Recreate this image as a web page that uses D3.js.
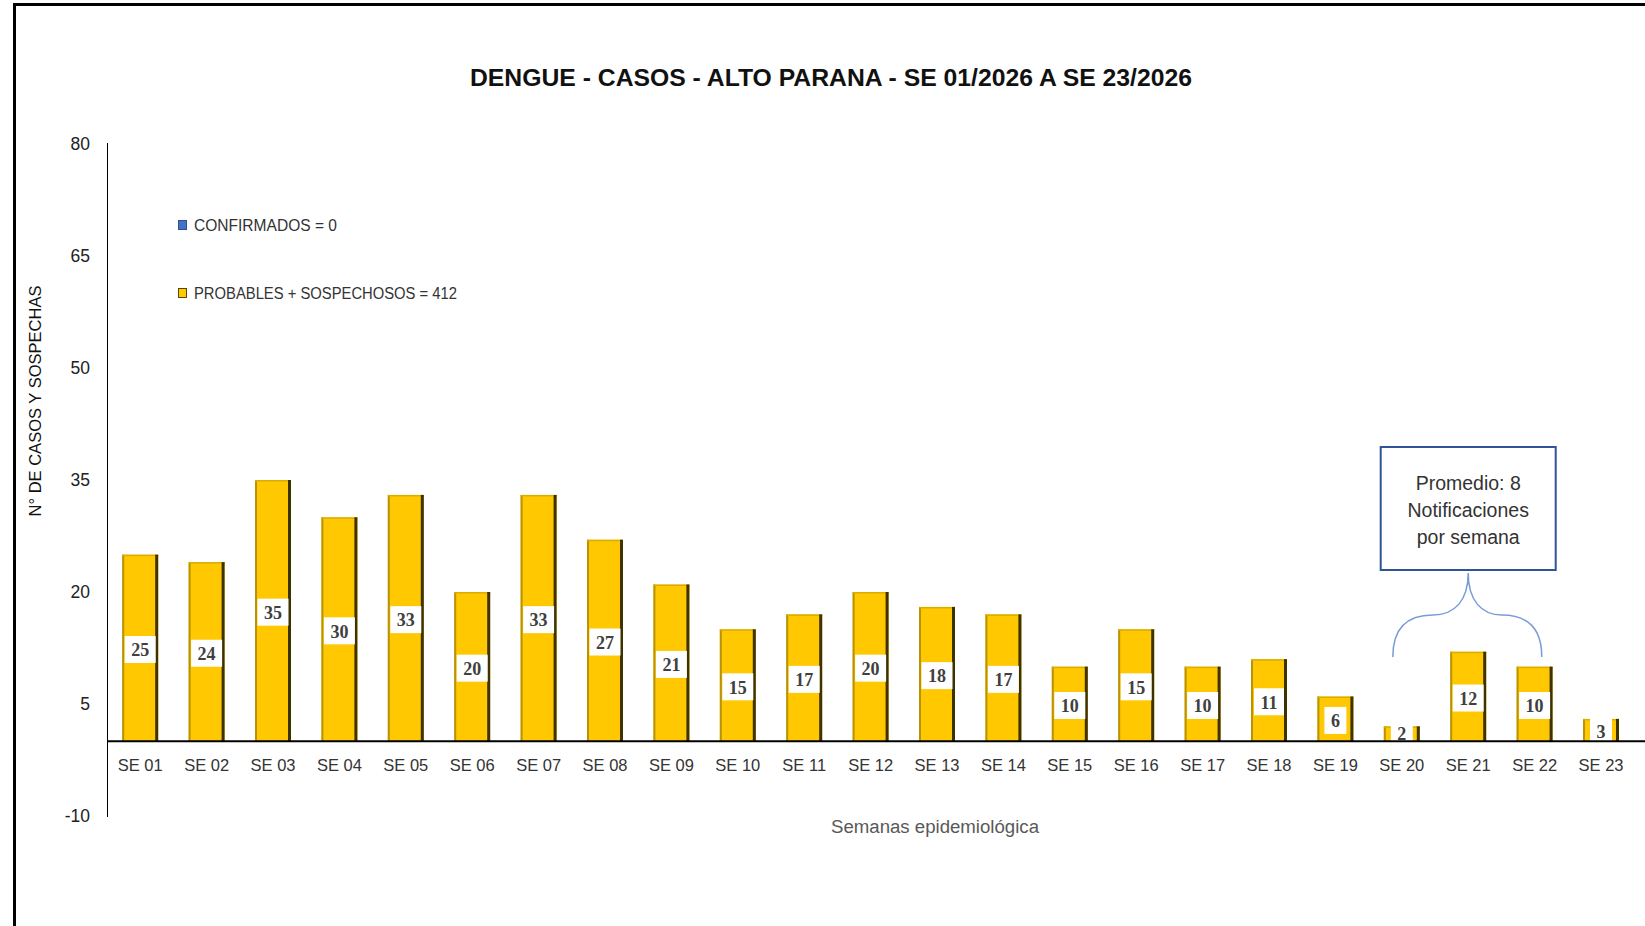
<!DOCTYPE html>
<html>
<head>
<meta charset="utf-8">
<script src="https://cdn.jsdelivr.net/npm/d3@7"></script>
<style>
  body { margin: 0; background: #fff; }
  svg { display: block; }
</style>
</head>
<body>
<div id="chart"></div>
<script>
// data
var weeks = ["SE 01", "SE 02", "SE 03", "SE 04", "SE 05", "SE 06", "SE 07", "SE 08",
  "SE 09", "SE 10", "SE 11", "SE 12", "SE 13", "SE 14", "SE 15", "SE 16",
  "SE 17", "SE 18", "SE 19", "SE 20", "SE 21", "SE 22", "SE 23"];
var probables = [25, 24, 35, 30, 33, 20, 33, 27, 21, 15, 17, 20, 18, 17, 10, 15,
  10, 11, 6, 2, 12, 10, 3];
var confirmados = [0, 0, 0, 0, 0, 0, 0, 0, 0, 0, 0, 0, 0, 0, 0, 0, 0, 0, 0, 0, 0, 0, 0];
var yTicks = [80, 65, 50, 35, 20, 5, -10];
var legendLabels = ["CONFIRMADOS = 0", "PROBABLES + SOSPECHOSOS = 412"];
var noteLines = ["Promedio: 8", "Notificaciones", "por semana"];
var noteWeeks = ["SE 20", "SE 21", "SE 22"];

var svgWidth = 1645;
var svgHeight = 926;
var sans = "'Liberation Sans', Arial, sans-serif";

var svg = d3.select("#chart")
  .append("svg")
  .attr("width", svgWidth)
  .attr("height", svgHeight);

// outer frame
svg.append("rect")
  .attr("x", 14.5).attr("y", 4.5)
  .attr("width", 1700).attr("height", 1000)
  .attr("fill", "none")
  .attr("stroke", "#000")
  .attr("stroke-width", 3);

// scales
var x = d3.scaleBand()
  .domain(weeks)
  .range([107, 107 + 23 * 66.4])
  .paddingInner(0.458)
  .paddingOuter(0.229);

var y = d3.scaleLinear()
  .domain([-10, 80])
  .range([816, 144]);

// title
svg.append("text")
  .attr("x", 831)
  .attr("y", 86)
  .attr("text-anchor", "middle")
  .attr("font-family", sans)
  .attr("font-weight", "bold")
  .attr("font-size", 24)
  .attr("fill", "#111")
  .attr("textLength", 722)
  .attr("lengthAdjust", "spacingAndGlyphs")
  .text("DENGUE - CASOS - ALTO PARANA - SE 01/2026 A SE 23/2026");

// y axis
var leftAxis = d3.axisLeft(y).tickValues(yTicks).tickSize(0).tickPadding(17)
  .tickFormat(d => String(d));
var yAxis = svg.append("g")
  .attr("transform", "translate(107,0)")
  .call(leftAxis);
yAxis.select(".domain").remove();
yAxis.selectAll("text")
  .attr("font-family", sans)
  .attr("font-size", 17.5)
  .attr("fill", "#222");

svg.append("line")
  .attr("x1", 107.5).attr("x2", 107.5)
  .attr("y1", 143).attr("y2", 817)
  .attr("stroke", "#000")
  .attr("stroke-width", 1);

// y axis title
svg.append("text")
  .attr("transform", "translate(41,401) rotate(-90)")
  .attr("text-anchor", "middle")
  .attr("font-family", sans)
  .attr("font-size", 17)
  .attr("fill", "#111")
  .attr("textLength", 231)
  .attr("lengthAdjust", "spacingAndGlyphs")
  .text("N° DE CASOS Y SOSPECHAS");

// bars
var bw = x.bandwidth();
var bars = svg.append("g").selectAll("g")
  .data(weeks)
  .enter()
  .append("g");

bars.append("rect")
  .attr("x", d => x(d))
  .attr("y", (d, i) => y(probables[i]))
  .attr("width", bw)
  .attr("height", (d, i) => y(0) - y(probables[i]))
  .attr("fill", "#FFC800");

// left highlight edge
bars.append("rect")
  .attr("x", d => x(d))
  .attr("y", (d, i) => y(probables[i]))
  .attr("width", 2)
  .attr("height", (d, i) => y(0) - y(probables[i]))
  .attr("fill", "#B8930A");

// top edge
bars.append("rect")
  .attr("x", d => x(d))
  .attr("y", (d, i) => y(probables[i]))
  .attr("width", bw)
  .attr("height", 1.5)
  .attr("fill", "#D9AE00");

// right shadow edge
bars.append("rect")
  .attr("x", d => x(d) + bw - 3)
  .attr("y", (d, i) => y(probables[i]))
  .attr("width", 3)
  .attr("height", (d, i) => y(0) - y(probables[i]))
  .attr("fill", "#3E3300");

// confirmados bars (all zero)
svg.append("g").selectAll("rect")
  .data(weeks)
  .enter()
  .append("rect")
  .attr("x", d => x(d))
  .attr("y", (d, i) => y(confirmados[i]))
  .attr("width", bw)
  .attr("height", (d, i) => y(0) - y(confirmados[i]))
  .attr("fill", "#4472C4");

// data labels with white boxes
var labels = svg.append("g").selectAll("g")
  .data(weeks)
  .enter()
  .append("g")
  .attr("transform", function(d, i) {
    var cy = Math.min((y(0) + y(probables[i])) / 2 + 2, y(0) - 7.5);
    return "translate(" + (x(d) + bw / 2) + "," + cy + ")";
  });

labels.append("rect").attr("class", "lbox").attr("fill", "#fff");
labels.append("text")
  .attr("text-anchor", "middle")
  .attr("dy", "0.35em")
  .attr("font-family", "'Liberation Serif', 'Times New Roman', serif")
  .attr("font-weight", "bold")
  .attr("font-size", 18)
  .attr("fill", "#404040")
  .text((d, i) => probables[i]);

labels.each(function() {
  var g = d3.select(this);
  var w = g.select("text").node().getComputedTextLength() + 13;
  g.select("rect")
    .attr("x", -w / 2)
    .attr("y", -14)
    .attr("width", w)
    .attr("height", 27);
});

// x axis
var bottomAxis = d3.axisBottom(x).tickSize(0).tickPadding(18);
var xAxis = svg.append("g")
  .attr("transform", "translate(0," + y(0) + ")")
  .call(bottomAxis);
xAxis.select(".domain").remove();
xAxis.selectAll("text")
  .attr("font-family", sans)
  .attr("font-size", 16.5)
  .attr("fill", "#333");

svg.append("line")
  .attr("x1", 107).attr("x2", svgWidth)
  .attr("y1", y(0)).attr("y2", y(0))
  .attr("stroke", "#000")
  .attr("stroke-width", 2);

// x axis title
svg.append("text")
  .attr("x", 935)
  .attr("y", 833)
  .attr("text-anchor", "middle")
  .attr("font-family", sans)
  .attr("font-size", 18)
  .attr("fill", "#595959")
  .attr("textLength", 208)
  .attr("lengthAdjust", "spacingAndGlyphs")
  .text("Semanas epidemiológica");

// legend
var legendColors = [["#4472C4", "#2F528F"], ["#FFC800", "#5A4500"]];
var legend = svg.append("g").selectAll("g")
  .data(legendLabels)
  .enter()
  .append("g")
  .attr("transform", (d, i) => "translate(178," + (225 + i * 68) + ")");

legend.append("rect")
  .attr("x", 0.5).attr("y", -4.5)
  .attr("width", 8).attr("height", 9)
  .attr("fill", (d, i) => legendColors[i][0])
  .attr("stroke", (d, i) => legendColors[i][1])
  .attr("stroke-width", 1);

legend.append("text")
  .attr("x", 16)
  .attr("dy", "0.35em")
  .attr("font-family", sans)
  .attr("font-size", 16)
  .attr("fill", "#333")
  .attr("textLength", (d, i) => i === 0 ? 143 : 263)
  .attr("lengthAdjust", "spacingAndGlyphs")
  .text(d => d);

// annotation box and brace
var cx = x(noteWeeks[1]) + bw / 2;
var boxW = 175, boxTop = 447, boxH = 123;
svg.append("rect")
  .attr("x", cx - boxW / 2)
  .attr("y", boxTop)
  .attr("width", boxW)
  .attr("height", boxH)
  .attr("fill", "#fff")
  .attr("stroke", "#2F5597")
  .attr("stroke-width", 2);

svg.append("g").selectAll("text")
  .data(noteLines)
  .enter()
  .append("text")
  .attr("x", cx)
  .attr("y", (d, i) => 490 + i * 27)
  .attr("text-anchor", "middle")
  .attr("font-family", sans)
  .attr("font-size", 19.5)
  .attr("fill", "#333")
  .text(d => d);

var bl = x(noteWeeks[0]) + 9;
var br = x(noteWeeks[2]) + bw * 0.7;
var by = 657, bmid = 615, btip = boxTop + boxH + 3;
var brace = d3.path();
brace.moveTo(bl, by);
brace.bezierCurveTo(bl, bmid + 10, bl + 17, bmid, bl + 40, bmid);
brace.bezierCurveTo(cx - 13, bmid, cx, bmid - 15, cx, btip);
brace.bezierCurveTo(cx, bmid - 15, cx + 13, bmid, br - 40, bmid);
brace.bezierCurveTo(br - 17, bmid, br, bmid + 10, br, by);
svg.append("path")
  .attr("d", brace.toString())
  .attr("fill", "none")
  .attr("stroke", "#7A9CD6")
  .attr("stroke-width", 1.5);
</script>
</body>
</html>
